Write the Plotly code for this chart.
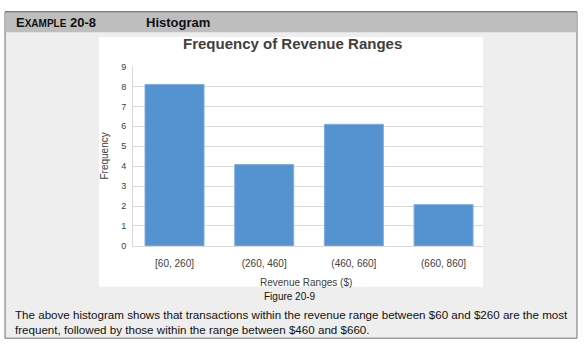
import plotly.graph_objects as go

categories = ["[60, 260]", "(260, 460]", "(460, 660]", "(660, 860]"]
frequency = [8.1, 4.08, 6.1, 2.07]
y_ticks = [0, 1, 2, 3, 4, 5, 6, 7, 8, 9]

W, H = 584, 350
def px(x): return x / W
def py(y): return 1 - y / H

FONT = "Liberation Sans, Arial, sans-serif"

fig = go.Figure()
fig.add_trace(go.Bar(
    x=categories, y=frequency,
    marker=dict(color="#5592D0", line=dict(color="#7FAEE0", width=1)),
    hoverinfo="x+y",
))

shapes = [
    dict(type="rect", xref="paper", yref="paper", x0=px(5), x1=px(577), y0=py(343), y1=py(7),
         fillcolor="#EEEEEE", line=dict(color="#707070", width=1), layer="below"),
    dict(type="rect", xref="paper", yref="paper", x0=px(5.5), x1=px(576.5), y0=py(28), y1=py(7.5),
         fillcolor="#BEBEBE", line=dict(width=0), layer="below"),
    dict(type="line", xref="paper", yref="paper", x0=px(5), x1=px(577), y0=py(7), y1=py(7),
         line=dict(color="#707070", width=1), layer="below"),
    dict(type="rect", xref="paper", yref="paper", x0=px(99), x1=px(483), y0=py(290), y1=py(33),
         fillcolor="#FFFFFF", line=dict(width=0), layer="below"),
]

annotations = [
    dict(text="<b>E<span style='font-size:10px'>XAMPLE</span> 20-8</b>", x=px(14), y=py(18),
         xref="paper", yref="paper", xanchor="left", yanchor="middle", showarrow=False,
         font=dict(family=FONT, size=13, color="#111111")),
    dict(text="<b>Histogram</b>", x=px(144), y=py(18), xref="paper", yref="paper",
         xanchor="left", yanchor="middle", showarrow=False,
         font=dict(family=FONT, size=13, color="#111111")),
    dict(text="<b>Frequency of Revenue Ranges</b>", x=px(292), y=py(40), xref="paper", yref="paper",
         xanchor="center", yanchor="middle", showarrow=False,
         font=dict(family=FONT, size=15, color="#404040")),
    dict(text="Frequency", x=px(105), y=py(156), xref="paper", yref="paper", textangle=-90,
         xanchor="center", yanchor="middle", showarrow=False,
         font=dict(family=FONT, size=10, color="#404040")),
    dict(text="Revenue Ranges ($)", x=px(306), y=py(286), xref="paper", yref="paper",
         xanchor="center", yanchor="middle", showarrow=False,
         font=dict(family=FONT, size=10, color="#404040")),
    dict(text="Figure 20-9", x=px(290), y=py(300), xref="paper", yref="paper",
         xanchor="center", yanchor="middle", showarrow=False,
         font=dict(family=FONT, size=10, color="#111111")),
    dict(text="The above histogram shows that transactions within the revenue range between $60 and $260 are the most<br>"
              "frequent, followed by those within the range between $460 and $660.",
         x=px(13), y=py(326), xref="paper", yref="paper", xanchor="left", yanchor="middle",
         align="left", showarrow=False,
         font=dict(family=FONT, size=11.6, color="#111111")),
]

fig.update_layout(
    width=W, height=H,
    margin=dict(l=0, r=0, t=0, b=0),
    paper_bgcolor="#FFFFFF",
    plot_bgcolor="rgba(0,0,0,0)",
    showlegend=False,
    bargap=0.342,
    shapes=shapes,
    annotations=annotations,
    xaxis=dict(
        domain=[px(133), px(483)],
        range=[-0.463, 3.44],
        type="category",
        showgrid=False, zeroline=False,
        showline=True, linecolor="#D9D9D9", linewidth=1,
        ticks="", ticklabelstandoff=8,
        tickfont=dict(family=FONT, size=10, color="#404040"),
        fixedrange=True,
    ),
    yaxis=dict(
        domain=[py(248), py(63.3)],
        range=[0, 9],
        tickvals=y_ticks,
        showgrid=True, gridcolor="#D9D9D9", gridwidth=1,
        zeroline=False,
        showline=True, linecolor="#D9D9D9", linewidth=1,
        ticks="", ticklabelstandoff=4,
        tickfont=dict(family=FONT, size=9, color="#404040"),
        fixedrange=True,
    ),
)

fig.write_html("out.html", config={"displayModeBar": False})
